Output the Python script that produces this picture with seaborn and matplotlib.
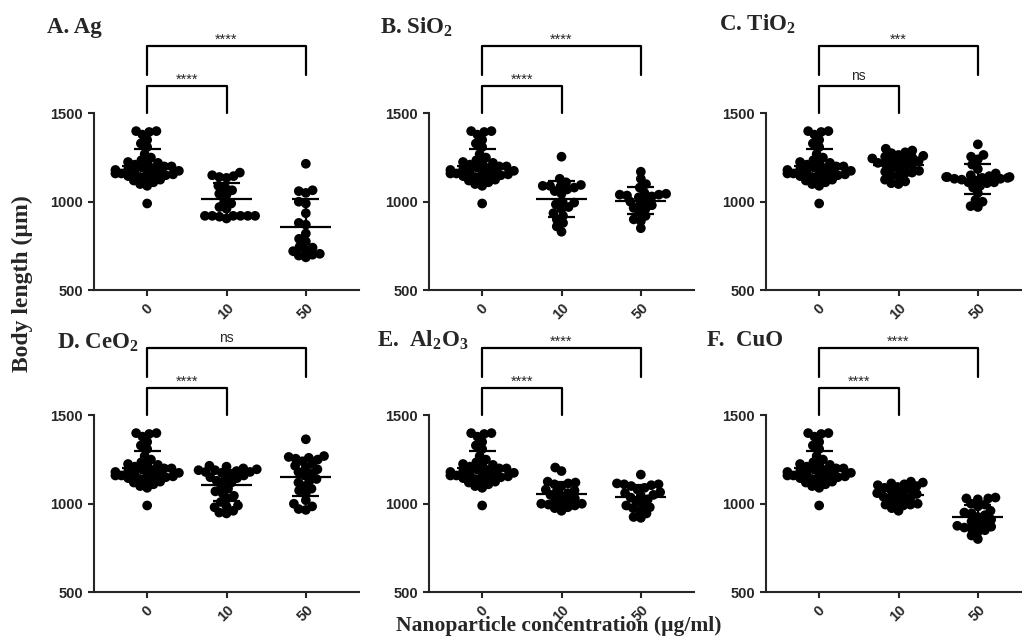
import numpy as np
import pandas as pd
import matplotlib
matplotlib.use("Agg")
import matplotlib.pyplot as plt
from matplotlib.collections import PathCollection
import seaborn as sns

# 数据：体长 (µm)，对照组在所有面板中相同
conc_labels = ["0", "10", "50"]

ctrl = [1400, 1400, 1395, 1380, 1350, 1330, 1310, 1270, 1250, 1235, 1225, 1220, 1215,
        1210, 1200, 1200, 1195, 1190, 1185, 1180, 1175, 1170, 1170, 1165, 1160, 1160,
        1155, 1150, 1150, 1145, 1140, 1130, 1125, 1120, 1110, 1100, 1090, 990]

ag10 = [1165, 1150, 1145, 1140, 1135, 1090, 1080, 1065, 1045, 1040, 1000, 990, 970,
        960, 920, 920, 920, 920, 920, 920, 915, 905]
ag50 = [1215, 1065, 1060, 1050, 1000, 990, 935, 880, 870, 820, 790, 775, 745, 740,
        725, 720, 705, 700, 695, 685]

sio10 = [1255, 1130, 1110, 1095, 1090, 1090, 1085, 1080, 1070, 1060, 1045, 1000, 995,
         985, 970, 960, 935, 920, 900, 880, 860, 830]
sio50 = [1170, 1130, 1100, 1080, 1050, 1045, 1040, 1040, 1035, 1030, 1025, 1010, 1000,
         985, 980, 965, 960, 940, 920, 900, 890, 850]

ti10 = [1300, 1290, 1280, 1275, 1265, 1260, 1255, 1250, 1245, 1240, 1235, 1230, 1225,
        1220, 1215, 1210, 1200, 1195, 1185, 1175, 1170, 1165, 1160, 1150, 1140, 1125,
        1115, 1105, 1100]
ti50 = [1325, 1265, 1255, 1240, 1210, 1185, 1160, 1150, 1145, 1140, 1140, 1140, 1135,
        1135, 1130, 1130, 1125, 1120, 1110, 1110, 1105, 1090, 1080, 1050, 1010, 1000,
        975, 970]

ce10 = [1215, 1210, 1200, 1195, 1190, 1190, 1185, 1180, 1180, 1175, 1170, 1160, 1150,
        1145, 1140, 1130, 1120, 1100, 1085, 1070, 1060, 1045, 1030, 1010, 990, 985,
        980, 960, 950, 945]
ce50 = [1365, 1270, 1265, 1260, 1255, 1250, 1240, 1225, 1215, 1205, 1195, 1180, 1170,
        1160, 1140, 1130, 1120, 1100, 1085, 1075, 1060, 1020, 1000, 985, 970, 965]

al10 = [1205, 1185, 1125, 1120, 1115, 1110, 1100, 1080, 1075, 1070, 1060, 1050, 1040,
        1030, 1020, 1020, 1000, 1000, 1000, 995, 990, 980, 975, 960]
al50 = [1165, 1115, 1110, 1110, 1105, 1100, 1090, 1080, 1065, 1060, 1050, 1045, 1035,
        1025, 1010, 995, 990, 980, 975, 960, 945, 925, 920]

cu10 = [1125, 1120, 1115, 1110, 1105, 1100, 1095, 1090, 1080, 1075, 1070, 1060, 1055,
        1050, 1040, 1035, 1030, 1025, 1010, 1000, 995, 995, 990, 975, 960]
cu50 = [1035, 1030, 1030, 1025, 1000, 995, 985, 960, 950, 945, 935, 925, 910, 900,
        890, 880, 875, 870, 865, 860, 850, 840, 820, 800]

titles = ["A. Ag", "B. SiO$_2$", "C. TiO$_2$", "D. CeO$_2$", "E.  Al$_2$O$_3$", "F.  CuO"]
groups = [(ag10, ag50), (sio10, sio50), (ti10, ti50), (ce10, ce50), (al10, al50), (cu10, cu50)]
sig_10 = ["****", "****", "ns", "****", "****", "****"]
sig_50 = ["****", "****", "***", "ns", "****", "****"]

sns.set_style("ticks")
plt.rcParams["font.family"] = ["Liberation Sans", "DejaVu Sans"]
plt.rcParams["mathtext.fontset"] = "custom"
plt.rcParams["mathtext.rm"] = "Liberation Serif:bold"
plt.rcParams["mathtext.bf"] = "Liberation Serif:bold"
plt.rcParams["mathtext.default"] = "rm"

W, H = 1022, 636
fig = plt.figure(figsize=(W / 100, H / 100), dpi=100)

lefts = [94, 429, 766]
row_bottom = [290, 592]   # 像素位置 (y=500)
ax_w = 265
ax_h = 256

title_pos = [(47, 27), (380, 27), (719, 24), (57, 343), (377, 340), (707, 340)]


def sig_text(ax, x, y_line, label):
    if label == "ns":
        ax.text(x, y_line + 35, label, ha="center", va="baseline", fontsize=10, clip_on=False)
    else:
        ax.text(x, y_line + 15, label, ha="center", va="baseline", fontsize=10.5, clip_on=False)


axes = []
for i, (title, (g10, g50)) in enumerate(zip(titles, groups)):
    r, c = divmod(i, 3)
    x0 = lefts[c] / W
    y0 = (H - row_bottom[r]) / H
    ax = fig.add_axes([x0, y0, ax_w / W, ax_h / H])
    axes.append(ax)

    df = pd.DataFrame({
        "conc": ["0"] * len(ctrl) + ["10"] * len(g10) + ["50"] * len(g50),
        "length": list(ctrl) + list(g10) + list(g50),
    })
    sns.swarmplot(data=df, x="conc", y="length", order=conc_labels, color="black",
                  size=5.0, ax=ax, warn_thresh=1.0)

    # 均值 ± 标准差
    for k, lab in enumerate(conc_labels):
        vals = df.loc[df["conc"] == lab, "length"].to_numpy()
        m, s = vals.mean(), vals.std(ddof=1)
        ax.hlines(m, k - 0.32, k + 0.32, color="black", lw=1.6, zorder=5)
        ax.vlines(k, m - s, m + s, color="black", lw=1.6, zorder=5)
        ax.hlines([m - s, m + s], k - 0.17, k + 0.17, color="black", lw=1.6, zorder=5)

    # 显著性标记
    ax.plot([0, 0, 1, 1], [1500, 1655, 1655, 1500], color="black", lw=1.6, clip_on=False)
    ax.plot([0, 0, 2, 2], [1720, 1880, 1880, 1720], color="black", lw=1.6, clip_on=False)
    sig_text(ax, 0.5, 1655, sig_10[i])
    sig_text(ax, 1.0, 1880, sig_50[i])

    ax.set_xlim(-0.67, 2.67)
    ax.set_ylim(500, 1950)
    ax.set_yticks([500, 1000, 1500])
    ax.set_xlabel("")
    ax.set_ylabel("")
    ax.spines["top"].set_visible(False)
    ax.spines["right"].set_visible(False)
    ax.spines["left"].set_bounds(500, 1500)
    for sp in ["left", "bottom"]:
        ax.spines[sp].set_linewidth(1.5)
    ax.tick_params(width=1.5, length=4.5, labelsize=10.5)
    for t in ax.get_yticklabels():
        t.set_fontweight("bold")
    ax.set_xticks(range(3))
    ax.set_xticklabels(conc_labels, rotation=45, ha="center", va="top", fontweight="bold")
    ax.set_facecolor("none")

    tx, ty = title_pos[i]
    fig.text(tx / W, 1 - ty / H, title, family="Liberation Serif", fontweight="bold",
             fontsize=16.5, ha="left", va="center")

fig.text(22 / W, 1 - 284 / H, "Body length (µm)", rotation=90, family="Liberation Serif",
         fontweight="bold", fontsize=17, ha="center", va="center")
fig.text(559 / W, 1 - 626 / H, "Nanoparticle concentration (µg/ml)", family="Liberation Serif",
         fontweight="bold", fontsize=15.5, ha="center", va="center")

# 固定蜂群布局后放大点（GraphPad 风格的重叠散点）
fig.canvas.draw()
for ax in axes:
    for coll in ax.collections:
        if isinstance(coll, PathCollection):
            offs = np.asarray(coll.get_offsets()).copy()
            if "draw" in coll.__dict__:
                del coll.draw
            coll.set_offsets(offs)
            coll.set_sizes([7.0 ** 2] * len(offs))

fig.savefig("out.png", dpi=100)
